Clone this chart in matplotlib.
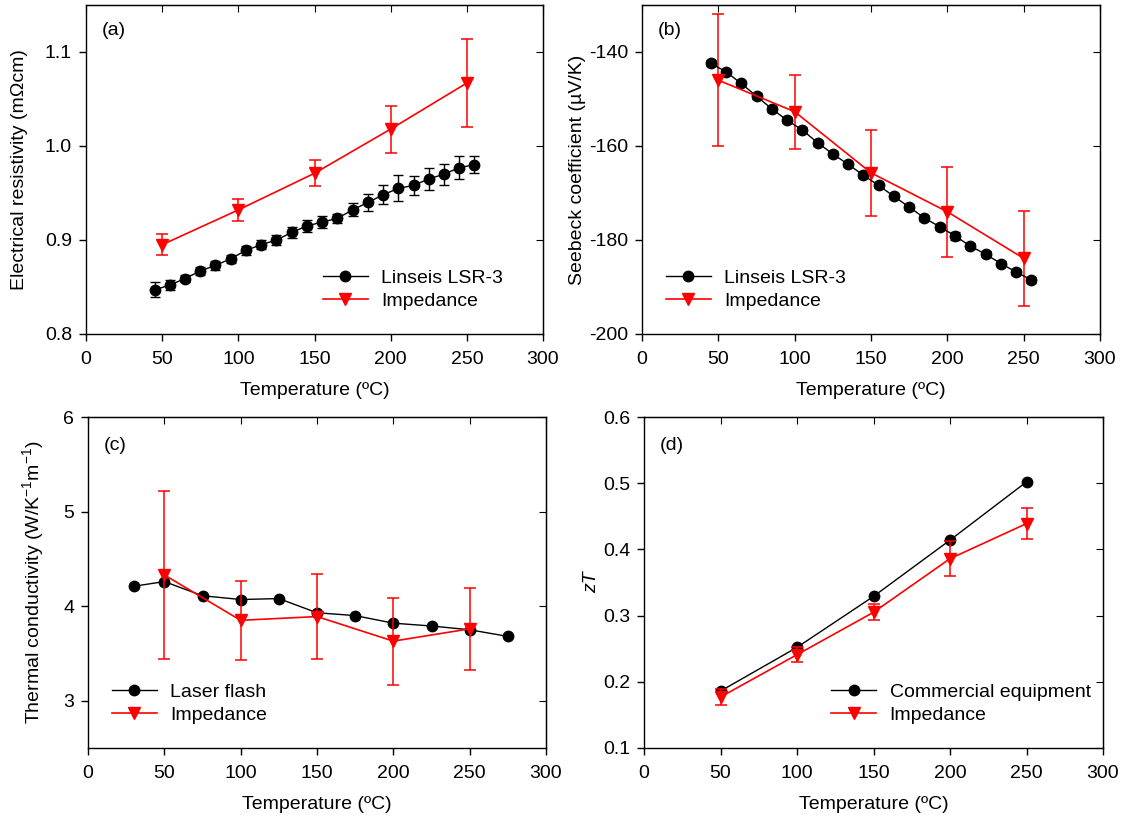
import matplotlib
matplotlib.use("Agg")
import matplotlib.pyplot as plt

plt.rcParams['font.family'] = ['Liberation Sans', 'DejaVu Sans']
plt.rcParams['mathtext.default'] = 'regular'
plt.rcParams['axes.unicode_minus'] = False

# ---- data ----
# (a) electrical resistivity
t_lsr = [45, 55, 65, 75, 85, 95, 105, 115, 125, 135, 145,
         155, 165, 175, 185, 195, 205, 215, 225, 235, 245, 255]
rho_lsr = [0.847, 0.852, 0.859, 0.867, 0.873, 0.880, 0.889, 0.895, 0.900, 0.908, 0.915,
           0.919, 0.923, 0.932, 0.940, 0.948, 0.955, 0.958, 0.965, 0.970, 0.977, 0.980]
rho_lsr_err = [0.008, 0.005, 0.004, 0.004, 0.005, 0.004, 0.005, 0.005, 0.005, 0.006, 0.006,
               0.006, 0.005, 0.007, 0.009, 0.010, 0.014, 0.010, 0.012, 0.011, 0.012, 0.009]
t_imp = [50, 100, 150, 200, 250]
rho_imp = [0.895, 0.932, 0.971, 1.018, 1.067]
rho_imp_err = [0.011, 0.012, 0.014, 0.025, 0.047]

# (b) Seebeck coefficient
s_lsr = [-142.4, -144.2, -146.7, -149.4, -152.1, -154.5, -156.6, -159.3, -161.7, -163.9, -166.2,
         -168.4, -170.7, -173.0, -175.3, -177.2, -179.1, -181.3, -183.0, -185.0, -186.8, -188.5]
s_lsr_err = [0.6, 0.6, 0.6, 0.6, 0.6, 0.6, 0.6, 0.6, 0.6, 0.6, 0.6,
             0.6, 0.6, 0.6, 0.6, 0.6, 0.8, 0.6, 0.6, 0.6, 0.6, 0.6]
s_imp = [-146.0, -152.7, -165.7, -174.0, -183.9]
s_imp_err = [14.0, 7.9, 9.1, 9.6, 10.1]

# (c) thermal conductivity
t_lf = [30, 50, 75, 100, 125, 150, 175, 200, 225, 250, 275]
k_lf = [4.21, 4.26, 4.11, 4.07, 4.08, 3.93, 3.90, 3.82, 3.79, 3.75, 3.68]
k_imp = [4.33, 3.85, 3.89, 3.63, 3.76]
k_imp_err = [0.89, 0.42, 0.45, 0.46, 0.43]

# (d) zT
zt_com = [0.186, 0.252, 0.329, 0.414, 0.502]
zt_imp = [0.177, 0.241, 0.305, 0.386, 0.439]
zt_imp_err = [0.012, 0.011, 0.012, 0.026, 0.023]

RED = '#ff0000'
FS = 14

fig = plt.figure(figsize=(11.26, 8.25), dpi=100)
W, H = 1126, 825


def make_axes(x0, x1, y0, y1):
    ax = fig.add_axes([x0 / W, 1 - y1 / H, (x1 - x0) / W, (y1 - y0) / H])
    ax.tick_params(axis='both', which='major', direction='out', length=5, width=1,
                   labelsize=FS, pad=5, top=False, right=False)
    ax.tick_params(axis='x', pad=7)
    for sp in ax.spines.values():
        sp.set_linewidth(1)
    ax.set_xlim(0, 300)
    ax.set_xticks([0, 50, 100, 150, 200, 250, 300])
    ax.set_xlabel('Temperature (ºC)', fontsize=FS, labelpad=10)
    return ax


def inner_ticks(ax):
    # inward ticks on the top and right spines, no labels
    top = ax.secondary_xaxis('top')
    top.set_xticks(ax.get_xticks())
    top.tick_params(direction='in', length=5, labeltop=False)
    right = ax.secondary_yaxis('right')
    right.set_yticks(ax.get_yticks())
    right.tick_params(direction='in', length=5, labelright=False)


def add_legend(ax, handles, labels, loc, anchor):
    ax.legend(handles, labels, loc=loc, bbox_to_anchor=anchor, frameon=False,
              fontsize=FS, handlelength=2.3, borderaxespad=0, labelspacing=0.25,
              handletextpad=0.7)


black_kw = dict(color='black', marker='o', markersize=7.5, linewidth=1,
                elinewidth=1, capsize=3.5, capthick=1)
red_kw = dict(color=RED, marker='v', markersize=8.5, linewidth=1.2,
              elinewidth=1.1, capsize=4, capthick=1.1)

# (a)
ax = make_axes(86, 543, 5, 334)
e1 = ax.errorbar(t_lsr, rho_lsr, yerr=rho_lsr_err, **black_kw)
e2 = ax.errorbar(t_imp, rho_imp, yerr=rho_imp_err, **red_kw)
ax.set_ylim(0.8, 1.15)
ax.set_yticks([0.8, 0.9, 1.0, 1.1])
ax.set_ylabel('Electrical resistivity (mΩcm)', fontsize=FS, labelpad=12)
ax.text(0.035, 0.91, '(a)', transform=ax.transAxes, fontsize=FS)
add_legend(ax, [e1[0], e2[0]], ['Linseis LSR-3', 'Impedance'], 'lower right', (0.93, 0.05))
inner_ticks(ax)

# (b)
ax = make_axes(642, 1100, 5, 334)
e1 = ax.errorbar(t_lsr, s_lsr, yerr=s_lsr_err, **black_kw)
e2 = ax.errorbar(t_imp, s_imp, yerr=s_imp_err, **red_kw)
ax.set_ylim(-200, -130)
ax.set_yticks([-200, -180, -160, -140])
ax.set_ylabel('Seebeck coefficient (µV/K)', fontsize=FS, labelpad=2)
ax.text(0.035, 0.91, '(b)', transform=ax.transAxes, fontsize=FS)
add_legend(ax, [e1[0], e2[0]], ['Linseis LSR-3', 'Impedance'], 'lower left', (0.035, 0.05))
inner_ticks(ax)

# (c)
ax = make_axes(88, 546, 417, 748)
l1, = ax.plot(t_lf, k_lf, color='black', marker='o', markersize=7.5, linewidth=1)
e2 = ax.errorbar(t_imp, k_imp, yerr=k_imp_err, **red_kw)
ax.set_ylim(2.5, 6)
ax.set_yticks([3, 4, 5, 6])
ax.set_ylabel('Thermal conductivity (W/K$^{-1}$m$^{-1}$)', fontsize=FS, labelpad=12)
ax.text(0.035, 0.9, '(c)', transform=ax.transAxes, fontsize=FS)
add_legend(ax, [l1, e2[0]], ['Laser flash', 'Impedance'], 'lower left', (0.035, 0.05))
inner_ticks(ax)

# (d)
ax = make_axes(644, 1103, 417, 748)
l1, = ax.plot(t_imp, zt_com, color='black', marker='o', markersize=7.5, linewidth=1)
e2 = ax.errorbar(t_imp, zt_imp, yerr=zt_imp_err, **red_kw)
ax.set_ylim(0.1, 0.6)
ax.set_yticks([0.1, 0.2, 0.3, 0.4, 0.5, 0.6])
ax.set_ylabel('zT', fontsize=FS, fontstyle='italic', labelpad=2)
ax.text(0.035, 0.9, '(d)', transform=ax.transAxes, fontsize=FS)
add_legend(ax, [l1, e2[0]], ['Commercial equipment', 'Impedance'], 'lower right', (0.99, 0.05))
inner_ticks(ax)

fig.savefig('out.png', dpi=100)
